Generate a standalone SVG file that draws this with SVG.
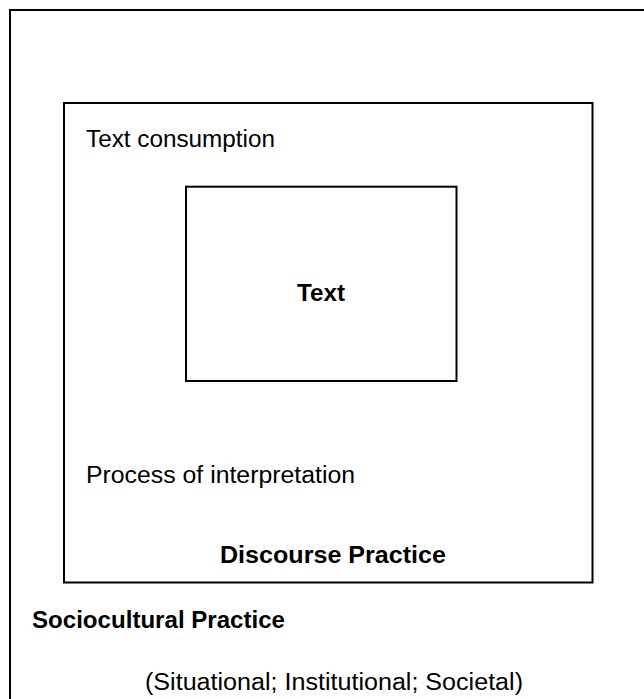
<svg xmlns="http://www.w3.org/2000/svg" width="644" height="699" viewBox="0 0 644 699">
<style>
.box{fill:none;stroke:#000;stroke-width:2}
.t{font-family:"Liberation Sans",Arial,sans-serif;font-size:23px;fill:#000}
.b{font-weight:bold}
</style>
<rect width="644" height="699" fill="#fff"/>
<g id="sociocultural">
<rect class="box" x="10" y="10" width="700" height="800"/>
<text class="t b" x="32" y="628" textLength="253" lengthAdjust="spacingAndGlyphs">Sociocultural Practice</text>
<text class="t" x="145" y="690" textLength="378" lengthAdjust="spacingAndGlyphs">(Situational; Institutional; Societal)</text>
</g>
<g id="discourse">
<rect class="box" x="64" y="103" width="528.5" height="479.5"/>
<text class="t" x="86" y="147" textLength="189" lengthAdjust="spacingAndGlyphs">Text consumption</text>
<text class="t" x="86" y="483" textLength="269" lengthAdjust="spacingAndGlyphs">Process of interpretation</text>
<text class="t b" x="220" y="563" textLength="226" lengthAdjust="spacingAndGlyphs">Discourse Practice</text>
</g>
<g id="text">
<rect class="box" x="186" y="186.7" width="270.5" height="194.3"/>
<text class="t b" x="297" y="301" textLength="48" lengthAdjust="spacingAndGlyphs">Text</text>
</g>
<g id="connectors"/>
</svg>
